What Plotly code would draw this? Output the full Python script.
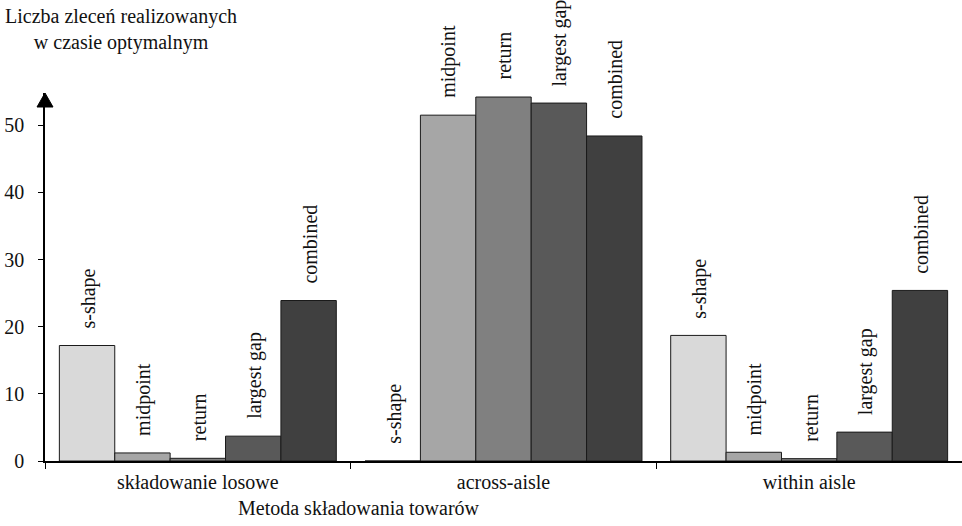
import plotly.graph_objects as go

# Storage methods (x categories) and routing heuristics (bar series)
categories = ["składowanie losowe", "across-aisle", "within aisle"]
methods = ["s-shape", "midpoint", "return", "largest gap", "combined"]

s_shape = [17.2, 0.0, 18.7]
midpoint = [1.2, 51.5, 1.3]
return_ = [0.4, 54.2, 0.35]
largest_gap = [3.7, 53.3, 4.3]
combined = [23.9, 48.4, 25.4]

series = [s_shape, midpoint, return_, largest_gap, combined]
colors = ["#d9d9d9", "#a6a6a6", "#808080", "#595959", "#404040"]

y_top = 54.8
bargap = 0.094
FONT = "Liberation Serif"
fs = 20

# plot area size in pixels (used to size the arrow head and place titles)
W, H = 962, 526
ml, mr, mt, mb = 45, 0, 93, 65
pw, ph = W - ml - mr, H - mt - mb

fig = go.Figure()
for name, vals, col in zip(methods, series, colors):
    fig.add_trace(go.Bar(
        x=categories, y=vals, name=name,
        marker=dict(color=col, line=dict(color="#1a1a1a", width=1)),
    ))

# rotated method labels above each bar
n = len(methods)
w = (1 - bargap) / n
for j, (name, vals) in enumerate(zip(methods, series)):
    for i, v in enumerate(vals):
        fig.add_annotation(
            x=i + (j - (n - 1) / 2) * w, y=v, xref="x", yref="y",
            text=name, textangle=-90, showarrow=False,
            yanchor="bottom", xanchor="center", yshift=15, xshift=1,
            font=dict(family=FONT, size=fs, color="#111"),
        )

# arrow head on top of the y axis
ah, aw = 14 / ph, 8 / pw
fig.add_shape(
    type="path", xref="paper", yref="paper",
    path=f"M {-aw},{1 - ah} L {aw},{1 - ah} L 0,1 Z",
    fillcolor="black", line=dict(color="black", width=1),
)

fig.add_annotation(
    xref="paper", yref="paper", x=(121 - ml) / pw, y=1 + (mt - 29) / ph,
    text="Liczba zleceń realizowanych<br>w czasie optymalnym",
    showarrow=False, xanchor="center", yanchor="middle", align="center",
    font=dict(family=FONT, size=fs, color="#111"),
)
fig.add_annotation(
    xref="paper", yref="paper", x=(359 - ml) / pw, y=-(508 - (H - mb)) / ph,
    text="Metoda składowania towarów",
    showarrow=False, xanchor="center", yanchor="middle",
    font=dict(family=FONT, size=fs, color="#111"),
)

fig.update_layout(
    width=W, height=H,
    margin=dict(l=ml, r=mr, t=mt, b=mb),
    barmode="group", bargap=bargap, bargroupgap=0,
    plot_bgcolor="white", paper_bgcolor="white",
    showlegend=False,
    font=dict(family=FONT, size=fs, color="#111"),
    xaxis=dict(
        range=[-0.5, 2.5], showline=True, linecolor="black", linewidth=2,
        ticks="outside", tickson="boundaries", ticklen=6, tickcolor="black",
        tickwidth=1, showgrid=False, zeroline=False, ticklabelstandoff=2,
    ),
    yaxis=dict(
        range=[0, y_top], showline=True, linecolor="black", linewidth=1.5,
        ticks="outside", ticklen=5, tickcolor="black", tickwidth=1,
        tickvals=[0, 10, 20, 30, 40, 50], showgrid=False, zeroline=False,
        ticklabelstandoff=10,
    ),
)

fig.write_html("out.html")
